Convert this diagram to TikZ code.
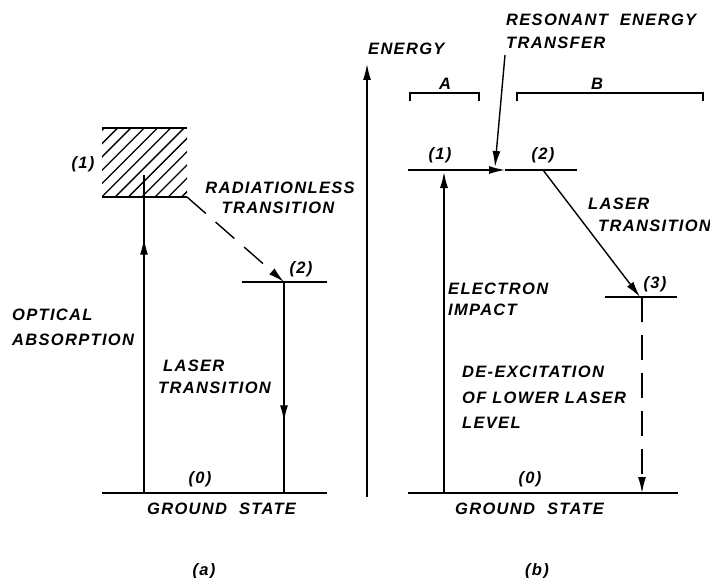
\documentclass[tikz,border=0pt]{standalone}
\usepackage{fontspec}
\newfontfamily\labfont[LetterSpace=8]{Liberation Sans}
\usetikzlibrary{arrows.meta,decorations.markings}
\begin{document}
\begin{tikzpicture}[x=1pt,y=-1pt,
  txt/.style={inner sep=0pt,text height=12pt,text depth=0pt,font=\labfont\bfseries\itshape\fontsize{16.5}{20}\selectfont},
  lw/.style={txt,anchor=west},
  lvl/.style={line width=1.8pt},
  ln/.style={line width=1.4pt},
  tip/.style={-{Latex[length=16pt,width=8pt]}},
  dsh/.style={dash pattern=on 25pt off 13pt},
  midarrow/.style={postaction={decorate},decoration={markings,mark=at position #1 with {\arrow{Latex[length=16pt,width=8pt]}}}},
]
\useasboundingbox (0,0) rectangle (710,578);

% ---------------- panel (a) ----------------
\coordinate (boxTL) at (102,128);
\coordinate (boxTR) at (187,128);
\coordinate (boxBL) at (102,197);
\coordinate (boxBR) at (187,197);
\begin{scope}
  \clip (boxTL) rectangle (boxBR);
  \foreach \i in {0,...,13} \draw[line width=1.3pt] (102-80+\i*13.3,197) -- ++(90,-90);
\end{scope}
\draw[lvl] (boxTL) -- (boxTR);
\draw[lvl] (boxBL) -- (boxBR);

\coordinate (ga0) at (102,493);
\coordinate (ga1) at (327,493);
\draw[lvl] (ga0) -- (ga1);

\coordinate (l2a0) at (242,282);
\coordinate (l2a1) at (327,282);
\draw[lvl] (l2a0) -- (l2a1);

\coordinate (oa0) at (144,493);
\coordinate (oa1) at (144,175);
\draw[ln,midarrow=0.80] (oa0) -- (oa1);

\coordinate (la0) at (284,282);
\coordinate (la1) at (284,493);
\draw[ln,midarrow=0.66] (la0) -- (la1);

\draw[ln,dsh,tip] (boxBR) -- (la0);

\node[txt] (n1a) at (83,162) {(1)};
\node[txt] (rad1) at (280,187) {RADIATIONLESS};
\node[txt] (rad2) at (278,207) {TRANSITION};
\node[txt] (n2a) at (301,267) {(2)};
\node[lw] (opt1) at (12,314) {OPTICAL};
\node[lw] (opt2) at (12,339) {ABSORPTION};
\node[lw] (las1) at (163,365) {LASER};
\node[lw] (las2) at (158,387) {TRANSITION};
\node[txt] (n0a) at (200,477) {(0)};
\node[lw] (gsa) at (147,508) {GROUND\hspace{6pt} STATE};
\node[txt] (capa) at (204,569) {(a)};

% ---------------- energy axis ----------------
\coordinate (e0) at (367,497);
\coordinate (e1) at (367,64);
\draw[ln,tip] (e0) -- (e1);
\node[lw] (energy) at (368,49) {ENERGY};

% ---------------- panel (b) ----------------
\coordinate (gb0) at (408,493);
\coordinate (gb1) at (678,493);
\draw[lvl] (gb0) -- (gb1);

\coordinate (l1b0) at (408,170);
\coordinate (l1b1) at (480,170);
\draw[lvl] (l1b0) -- (l1b1);
\coordinate (l2b0) at (505,170);
\coordinate (l2b1) at (577,170);
\draw[lvl] (l2b0) -- (l2b1);
\draw[ln,tip] (l1b1) -- (l2b0);

\coordinate (l3b0) at (605,297);
\coordinate (l3b1) at (677,297);
\draw[lvl] (l3b0) -- (l3b1);

\coordinate (eb0) at (444,493);
\coordinate (eb1) at (444,172);
\draw[ln,tip] (eb0) -- (eb1);

\coordinate (lt0) at (543,170);
\coordinate (lt1) at (640,297);
\draw[ln,tip] (lt0) -- (lt1);

\coordinate (dx0) at (642,297);
\coordinate (dx1) at (642,493);
\draw[ln,dsh,tip] (dx0) -- (dx1);

\coordinate (res0) at (505,55);
\coordinate (res1) at (495,167);
\draw[ln,tip] (res0) -- (res1);

% brackets
\coordinate (ba0) at (410,101);
\coordinate (ba1) at (479,101);
\draw[ln] (ba0) -- ++(0,-8) -| (ba1);
\coordinate (bb0) at (517,101);
\coordinate (bb1) at (703,101);
\draw[ln] (bb0) -- ++(0,-8) -| (bb1);

\node[txt] (labA) at (445,83) {A};
\node[txt] (labB) at (597,83) {B};
\node[lw] (ret1) at (506,20) {RESONANT\hspace{6pt} ENERGY};
\node[lw] (ret2) at (506,43) {TRANSFER};
\node[txt] (n1b) at (440,153) {(1)};
\node[txt] (n2b) at (543,153) {(2)};
\node[lw] (lasb1) at (588,203) {LASER};
\node[lw] (lasb2) at (598,225) {TRANSITION};
\node[txt] (n3b) at (655,282) {(3)};
\node[lw] (el1) at (448,288) {ELECTRON};
\node[lw] (el2) at (448,309) {IMPACT};
\node[lw] (de1) at (462,371) {DE-EXCITATION};
\node[lw] (de2) at (462,397) {OF LOWER LASER};
\node[lw] (de3) at (462,422) {LEVEL};
\node[txt] (n0b) at (530,477) {(0)};
\node[lw] (gsb) at (455,508) {GROUND\hspace{6pt} STATE};
\node[txt] (capb) at (537,569) {(b)};
\end{tikzpicture}
\end{document}
